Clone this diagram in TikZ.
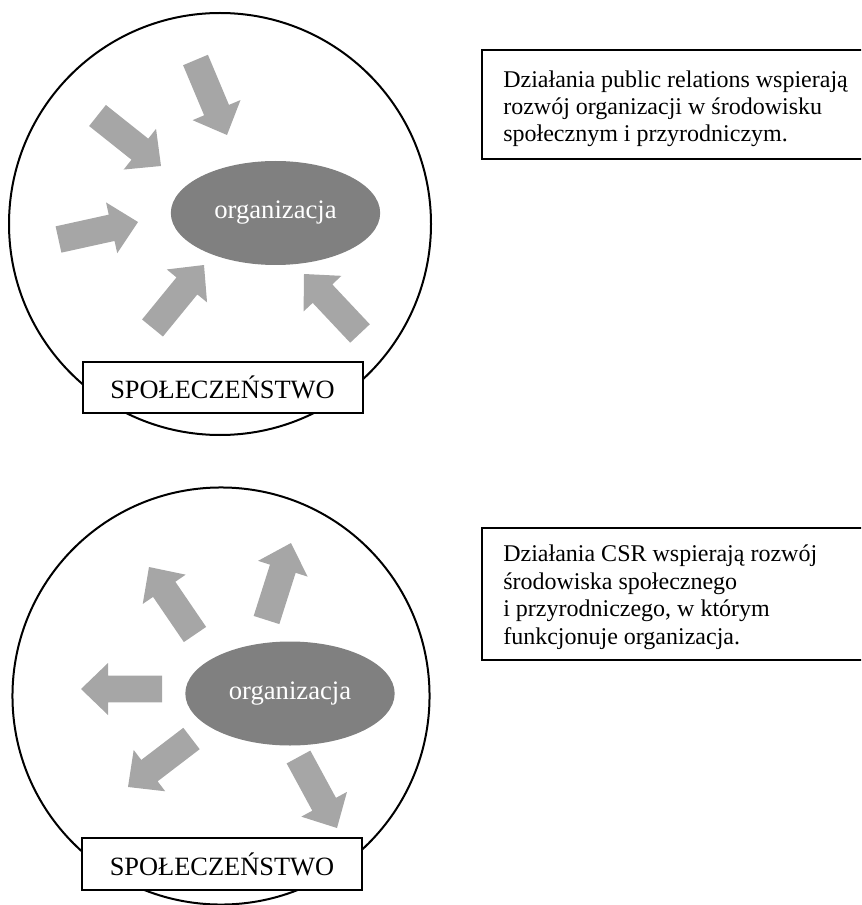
\documentclass[tikz,border=0pt]{standalone}
\usepackage{fontspec}
\setmainfont{Liberation Serif}
\usetikzlibrary{calc,shapes.geometric}
\definecolor{arrowfill}{RGB}{166,166,166}
\definecolor{orgfill}{RGB}{128,128,128}
\tikzset{
  frame/.style={line width=1.5pt},
  orgnode/.style={ellipse, fill=orgfill, text=white, inner sep=0pt,
    minimum width=157pt, minimum height=78pt, font=\fontsize{20}{24}\selectfont},
  spolbox/.style={draw, line width=1.5pt, fill=white, inner sep=0pt,
    minimum width=210pt, minimum height=38.5pt, font=\fontsize{19.8}{24}\selectfont},
  infotext/.style={anchor=base west, align=left, inner sep=0pt,
    font=\fontsize{18}{20.6}\selectfont},
}
\newcommand\blockarrow[2]{%
  \coordinate (hb) at ($(#2)!20.25pt!(#1)$);
  \fill[arrowfill] ($(#1)!10.1pt!90:(#2)$) -- ($(hb)!10.1pt!90:(#2)$)
    -- ($(hb)!19.5pt!90:(#2)$) -- (#2) -- ($(hb)!19.5pt!-90:(#2)$)
    -- ($(hb)!10.1pt!-90:(#2)$) -- ($(#1)!10.1pt!-90:(#2)$) -- cycle;}
\begin{document}
\begin{tikzpicture}[x=0.75pt,y=-0.75pt]
\useasboundingbox (0,0) rectangle (861,905);
\clip (0,0) rectangle (861,905);
% ---------- top diagram ----------
\draw[frame] (220,224) circle [radius=158.25pt];
\coordinate (aT) at (195.5,60);   \coordinate (aH) at (227,135);
\coordinate (bT) at (97.5,115.5); \coordinate (bH) at (161,166);
\coordinate (cT) at (58.5,239.5); \coordinate (cH) at (138,222);
\coordinate (dT) at (152.5,328);  \coordinate (dH) at (204,265);
\coordinate (eT) at (360,333.5);  \coordinate (eH) at (304,274);
\blockarrow{aT}{aH}
\blockarrow{bT}{bH}
\blockarrow{cT}{cH}
\blockarrow{dT}{dH}
\blockarrow{eT}{eH}
\node[orgnode] (org1) at (275.5,213) {organizacja};
\node[spolbox] (spol1) at (222.5,387.5) {SPOŁECZEŃSTWO};
\draw[frame] (482,50) rectangle (880,159);
\node[infotext] (txt1) at (503,142) {Działania public relations wspierają\\rozwój organizacji w środowisku\\społecznym i przyrodniczym.};
% ---------- bottom diagram ----------
\draw[frame] (221,696) circle [radius=156.4pt];
\coordinate (fT) at (195,634.5);  \coordinate (fH) at (149,567);
\coordinate (gT) at (266.5,620);  \coordinate (gH) at (291,543);
\coordinate (hT) at (162,689);    \coordinate (hH) at (81,689);
\coordinate (iT) at (191.5,738.5);\coordinate (iH) at (128,787);
\coordinate (jT) at (298.5,757);  \coordinate (jH) at (337,828);
\blockarrow{fT}{fH}
\blockarrow{gT}{gH}
\blockarrow{hT}{hH}
\blockarrow{iT}{iH}
\blockarrow{jT}{jH}
\node[orgnode] (org2) at (290,693.5) {organizacja};
\node[spolbox] (spol2) at (222,864) {SPOŁECZEŃSTWO};
\draw[frame] (482,528) rectangle (880,660);
\node[infotext] (txt2) at (503,644) {Działania CSR wspierają rozwój\\środowiska społecznego\\i przyrodniczego, w którym\\funkcjonuje organizacja.};
\end{tikzpicture}
\end{document}
